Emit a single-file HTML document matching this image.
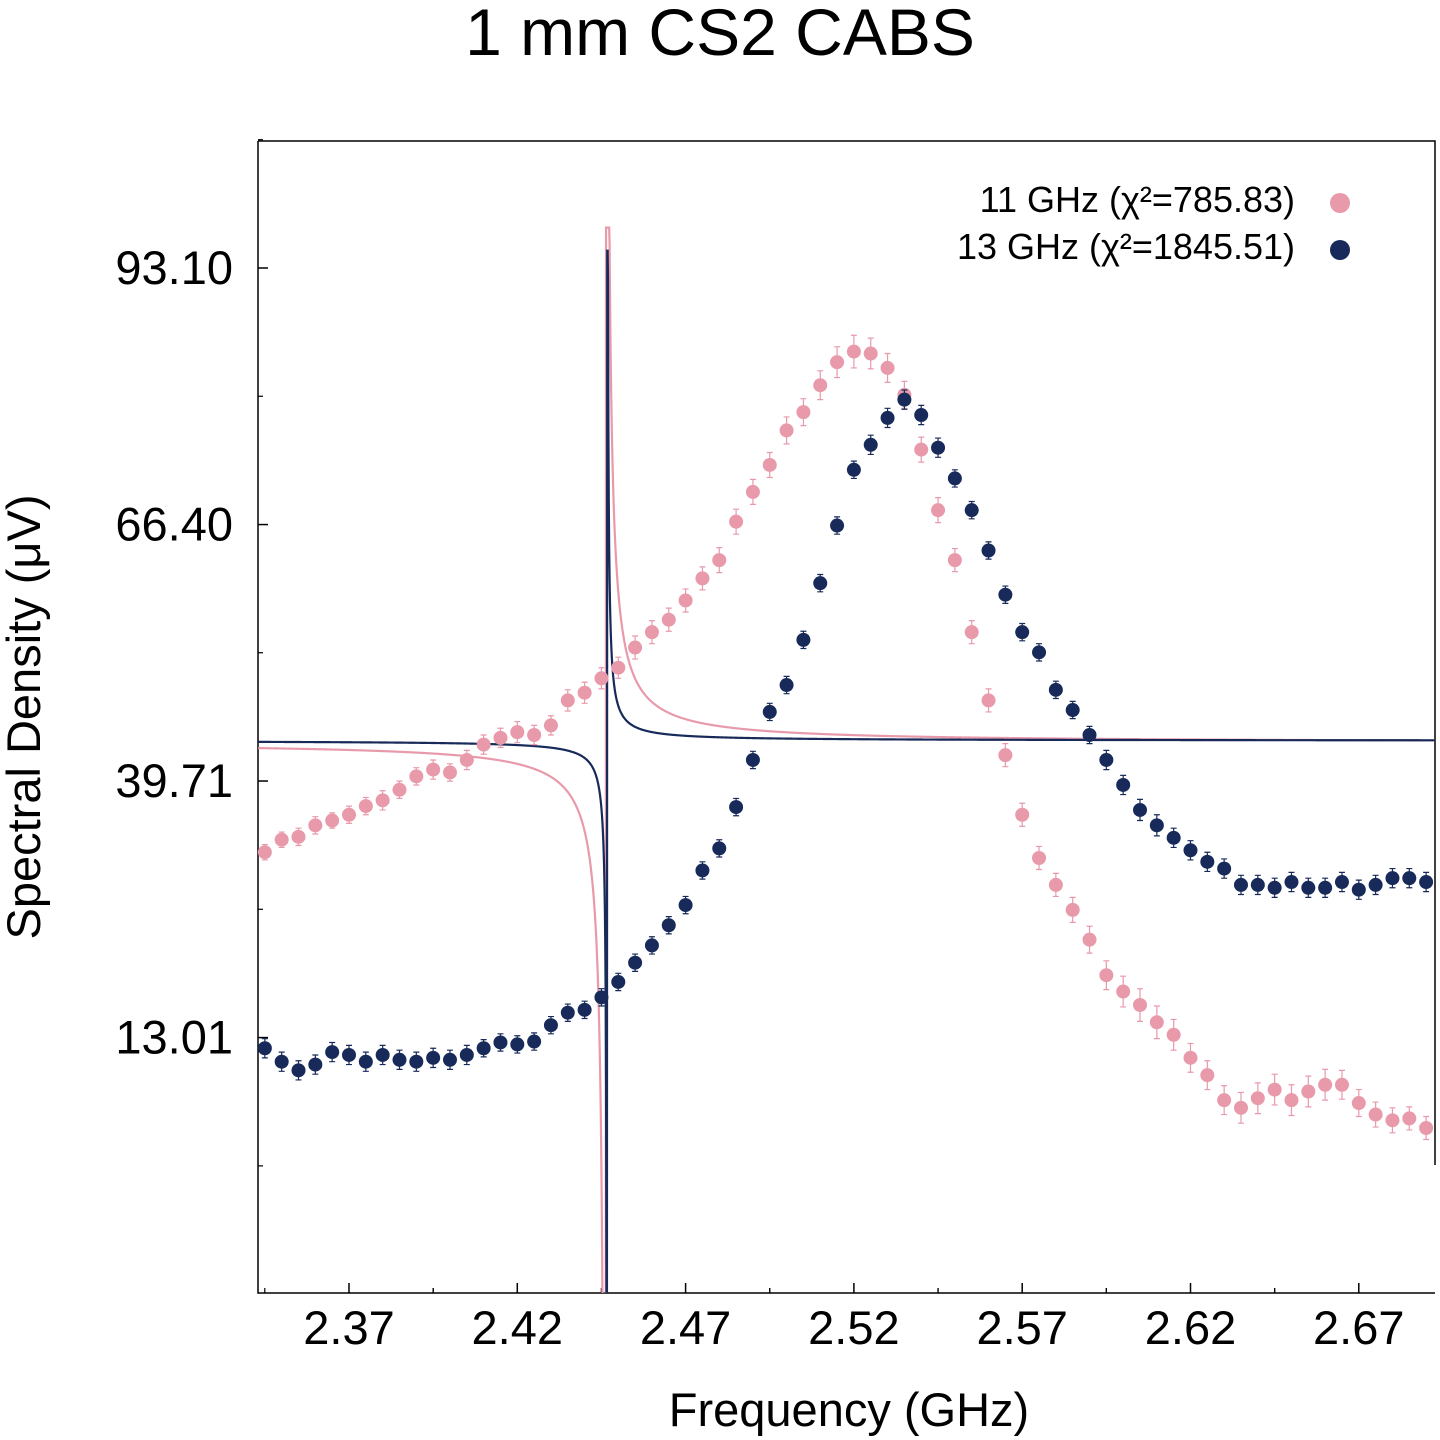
<!DOCTYPE html>
<html><head><meta charset="utf-8"><style>
html,body{margin:0;padding:0;background:#fff;overflow:hidden;width:1440px;height:1440px;}
svg{display:block;font-family:"Liberation Sans",Arial,sans-serif;}
</style></head><body>
<svg id="chart" width="1440" height="1440" viewBox="0 0 1440 1440" xmlns="http://www.w3.org/2000/svg">
<rect width="1440" height="1440" fill="#fff"/>
<text x="720" y="55" font-size="66" text-anchor="middle" fill="#000">1 mm CS2 CABS</text>
<text x="849" y="1426" font-size="47" text-anchor="middle" fill="#000">Frequency (GHz)</text>
<text transform="translate(40,717) rotate(-90)" font-size="47" text-anchor="middle" fill="#000">Spectral Density (μV)</text>
<g id="axes"></g>
<defs><clipPath id="plotclip"><rect x="258" y="141" width="1177" height="1152"/></clipPath></defs>
<g id="fits" clip-path="url(#plotclip)"></g>
<g id="points"></g>
<g>
<text x="1295" y="212" font-size="36" text-anchor="end">11 GHz (χ²=785.83)</text>
<circle cx="1340" cy="203" r="10" fill="#e89aab"/>
<text x="1295" y="259" font-size="36" text-anchor="end">13 GHz (χ²=1845.51)</text>
<circle cx="1340" cy="250" r="10" fill="#172a59"/>
</g>
</svg>
<script>
const freqStart = 2.345;
const freqStep = 0.005;
const pinkValues = [32.3,33.6,33.9,35.1,35.6,36.2,37.1,37.7,38.8,40.2,40.9,40.6,41.9,43.5,44.2,44.8,44.5,45.5,48.1,48.9,50.4,51.5,53.6,55.2,56.5,58.5,60.8,62.7,66.7,69.8,72.6,76.2,78.1,80.9,83.3,84.4,84.2,82.7,79.9,74.2,67.9,62.7,55.2,48.1,42.4,36.2,31.7,28.9,26.3,23.2,19.5,17.8,16.4,14.6,13.3,10.9,9.1,6.5,5.7,6.7,7.6,6.5,7.4,8.1,8.1,6.2,5.0,4.4,4.6,3.6];
const navyValues = [11.9,10.5,9.6,10.2,11.5,11.2,10.5,11.2,10.7,10.5,10.9,10.7,11.2,11.9,12.5,12.3,12.6,14.3,15.6,15.9,17.2,18.8,20.8,22.6,24.7,26.8,30.4,32.7,37.0,41.9,46.9,49.7,54.4,60.3,66.3,72.1,74.7,77.5,79.4,77.8,74.4,71.2,67.9,63.7,59.1,55.2,53.1,49.2,47.1,44.5,41.9,39.3,36.7,35.1,33.8,32.5,31.3,30.6,28.9,28.9,28.6,29.2,28.6,28.6,29.2,28.4,28.9,29.6,29.6,29.2];
const pinkErr = [0.8,0.8,0.9,0.9,0.8,0.9,0.9,1.0,0.9,0.9,1.0,0.9,1.0,1.0,1.0,1.1,1.0,1.0,1.1,1.1,1.1,1.1,1.2,1.2,1.2,1.2,1.2,1.3,1.3,1.3,1.3,1.4,1.4,1.5,1.6,1.7,1.6,1.5,1.4,1.3,1.3,1.2,1.2,1.2,1.2,1.2,1.2,1.2,1.3,1.4,1.5,1.6,1.7,1.7,1.6,1.5,1.5,1.5,1.6,1.6,1.6,1.6,1.6,1.6,1.5,1.4,1.3,1.3,1.2,1.2];
const navyErr = [1.0,1.0,1.0,1.0,1.0,1.0,1.0,1.0,1.0,1.0,1.0,1.0,1.0,0.9,0.9,0.9,0.9,0.9,0.9,0.9,0.9,0.9,0.9,0.9,0.9,0.9,0.9,0.9,0.9,0.9,0.9,0.9,0.9,0.9,0.9,0.9,1.0,1.0,1.0,1.0,1.0,0.9,0.9,0.9,0.9,0.9,0.9,0.9,0.9,0.9,1.0,1.0,1.1,1.1,1.0,1.0,1.0,1.0,1.0,1.0,1.0,1.0,1.0,1.0,1.0,1.0,1.0,1.0,1.0,1.0];
const yTickValues = [13.01,39.71,66.40,93.10];
const yTickLabels = ["13.01","39.71","66.40","93.10"];
const xTickValues = [2.37,2.42,2.47,2.52,2.57,2.62,2.67];
const xTickLabels = ["2.37","2.42","2.47","2.52","2.57","2.62","2.67"];
const pinkFit = [43.7, 0.058, 2.4463, 97.3];
const navyFit = [43.9, 0.012, 2.4467, 94.9];

const NS = "http://www.w3.org/2000/svg";
const PL = 258, PR = 1435, PT = 141, PB = 1293;
function xS(f){ return 349 + (f - 2.37) * 3366.0; }
function yS(v){ return 268 + (93.10 - v) * 9.609; }
function mk(tag, attrs, parent){ const e = document.createElementNS(NS, tag); for (const k in attrs) e.setAttribute(k, attrs[k]); parent.appendChild(e); return e; }

const axes = document.getElementById('axes');
const frame = mk('path', {d:`M${PL},${PT} L${PL},${PB} L${PR},${PB} M${PL},${PT} L${PR},${PT} L${PR},1165`, stroke:'#000','stroke-width':1.5, fill:'none'}, axes);


yTickValues.forEach((v, i) => {
  const y = yS(v);
  const t = mk('line', {x1:PL, x2:PL+10, y1:y, y2:y, stroke:'#000','stroke-width':1.5}, axes);
  
  
  const m = mk('line', {x1:PL, x2:PL+5, y1:y-128.3, y2:y-128.3, stroke:'#000','stroke-width':1.2}, axes);
  
  
  const lb = mk('text', {x:233, y:y+16, 'font-size':47, 'text-anchor':'end'}, axes);
  lb.textContent = yTickLabels[i];
  
  
});
const mb = mk('line', {x1:PL, x2:PL+5, y1:yS(13.01)+128.3, y2:yS(13.01)+128.3, stroke:'#000','stroke-width':1.2}, axes);


xTickValues.forEach((v, i) => {
  const x = xS(v);
  const t = mk('line', {x1:x, x2:x, y1:PB, y2:PB-10, stroke:'#000','stroke-width':1.5}, axes);
  
  
  [-84.2, 84.2].forEach(d => {
    const xm = x + d;
    if (xm > PL && xm < PR) {
      const m = mk('line', {x1:xm, x2:xm, y1:PB, y2:PB-5, stroke:'#000','stroke-width':1.2}, axes);
      
      
    }
  });
  const lb = mk('text', {x:x, y:1344, 'font-size':47, 'text-anchor':'middle'}, axes);
  lb.textContent = xTickLabels[i];
  
  
});

const fits = document.getElementById('fits');
function drawFit(p, color, name){
  let d = '';
  const N = 3000;
  const f0 = 2.343, f1 = 2.693;
  let pts = [];
  for (let i = 0; i <= N; i++){
    const f = f0 + (f1 - f0) * i / N;
    let v = p[0] + p[1] / (f - p[2]);
    v = Math.max(-60, Math.min(p[3], v));
    pts.push([xS(f), yS(v)]);
  }
  pts.forEach((q, i) => { d += (i ? 'L' : 'M') + q[0].toFixed(2) + ',' + q[1].toFixed(2); });
  const path = mk('path', {d:d, stroke:color, 'stroke-width':2.2, fill:'none'}, fits);
  
  
}
drawFit(pinkFit, '#e89aab', 'fit-11ghz');
drawFit(navyFit, '#172a59', 'fit-13ghz');

const pts = document.getElementById('points');
function drawSeries(vals, errs, color, name){
  const g = mk('g', {}, pts);
  
  
  vals.forEach((v, i) => {
    const f = freqStart + i * freqStep;
    const x = xS(f), y = yS(v), e = errs[i] * 9.609;
    const eb = mk('path', {d:`M${x},${y-e} L${x},${y+e} M${x-3},${y-e} L${x+3},${y-e} M${x-3},${y+e} L${x+3},${y+e}`, stroke:color, 'stroke-width':1.2, fill:'none'}, g);
    
    
    const c = mk('circle', {cx:x, cy:y, r:7, fill:color}, g);
    
    
  });
}
drawSeries(pinkValues, pinkErr, '#e89aab', 'series-11ghz');
drawSeries(navyValues, navyErr, '#172a59', 'series-13ghz');
</script>
</body></html>
